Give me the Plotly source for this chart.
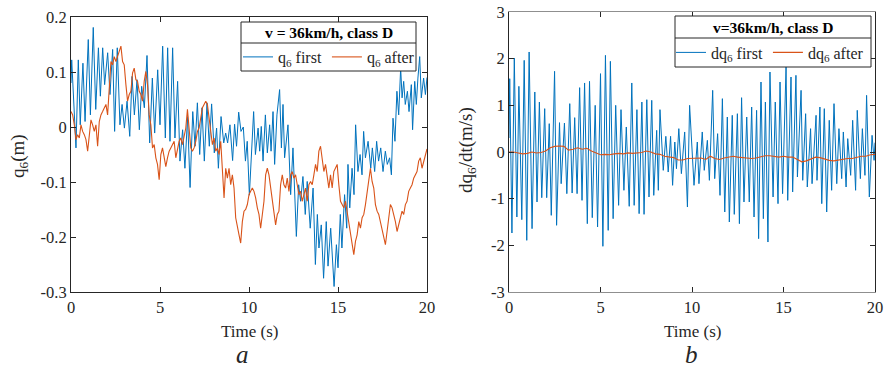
import numpy as np
import plotly.graph_objects as go

W, H = 885, 371
BLUE = "#0072BD"
ORANGE = "#D95319"
AX = "#262626"
FONT = "Liberation Serif"

# ---------------- panel a : q6 (m) ----------------
t_q_first = [0, 0.04, 0.28, 0.41, 0.52, 0.67, 0.79, 0.97, 1.09, 1.25, 1.39, 1.54, 1.65, 1.78, 1.89,
             2.06, 2.19, 2.34, 2.45, 2.60, 2.75, 2.87, 3.00, 3.15, 3.30, 3.43, 3.56, 3.71, 3.84, 3.97,
             4.12, 4.27, 4.42, 4.57, 4.70, 4.87, 5.00, 5.15, 5.30, 5.43, 5.56, 5.71, 5.84, 5.99, 6.12,
             6.27, 6.40, 6.55, 6.69, 6.84, 6.97, 7.10, 7.23, 7.36, 7.49, 7.64, 7.77, 7.90, 8.05, 8.18,
             8.28, 8.43, 8.58, 8.69, 8.80, 8.93, 9.08, 9.19, 9.30, 9.42, 9.55, 9.68, 9.80, 9.90, 10.02,
             10.26, 10.36, 10.51, 10.60, 10.69, 10.79, 10.92, 11.03, 11.16, 11.24, 11.35, 11.44, 11.57,
             11.72, 11.82, 11.91, 12.00, 12.19, 12.34, 12.47, 12.66, 12.79, 12.90, 13.03, 13.16, 13.27,
             13.44, 13.60, 13.73, 13.84, 13.93, 14.06, 14.19, 14.34, 14.44, 14.59, 14.78, 14.91, 15.00,
             15.13, 15.22, 15.37, 15.49, 15.56, 15.66, 15.79, 15.90, 15.99, 16.12, 16.24, 16.35, 16.44,
             16.54, 16.69, 16.84, 16.93, 17.06, 17.17, 17.28, 17.40, 17.53, 17.66, 17.77, 17.90, 18.00,
             18.09, 18.20, 18.31, 18.41, 18.52, 18.60, 18.69, 18.78, 18.90, 18.99, 19.12, 19.19, 19.31,
             19.40, 19.49, 19.59, 19.68, 19.81, 19.91, 20.0]
q_first = [0.080, 0.122, -0.038, 0.122, 0.004, 0.116, 0.010, 0.159, 0.022, 0.181, 0.032, 0.144, 0.056, 0.144, 0.077,
           0.135, 0.059, 0.141, -0.008, 0.144, 0.004, 0.041, -0.002, 0.047, -0.017, 0.092, 0.022, 0.086, -0.005, 0.074,
           0.035, 0.130, -0.029, 0.089, -0.011, 0.104, 0.004, 0.147, -0.020, 0.144, -0.026, 0.144, -0.020, 0.083, -0.062,
           -0.005, -0.075, 0.019, -0.110, 0.028, -0.035, 0.044, -0.050, 0.035, -0.062, 0.044, -0.035, 0.042, -0.047, -0.002,
           -0.075, 0.019, -0.029, -0.011, -0.029, 0.004, -0.061, 0.005, -0.035, 0.027, -0.008, 0.000, -0.062, -0.026, -0.124,
           0.028, -0.050, -0.002, -0.044, 0.001, -0.062, 0.022, -0.047, 0.004, -0.044, 0.028, -0.068, 0.022,
           0.068, -0.038, 0.041, -0.056, 0.004, -0.123, -0.038, -0.199, -0.105, -0.135, -0.090, -0.159, -0.099,
           -0.184, -0.111, -0.250, -0.159, -0.220, -0.178, -0.275, -0.172, -0.253, -0.184, -0.290, -0.214, -0.256,
           -0.159, -0.220, -0.123, -0.184, -0.068, -0.147, -0.075, -0.123, 0.004, -0.081, -0.050, -0.087, -0.008,
           -0.056, -0.026, -0.075, -0.038, -0.081, -0.026, -0.062, -0.038, -0.081, -0.044, -0.068, -0.056, -0.087,
           0.016, -0.026, 0.065, 0.022, 0.107, 0.053, 0.083, 0.041, 0.065, 0.028, 0.077, -0.005, 0.083,
           0.041, 0.089, 0.128, 0.053, 0.089, 0.059, 0.090]

q_after = [0.028, 0.022, 0.004, -0.023, -0.014, -0.020, 0.004, -0.008, -0.014, -0.023,
           -0.044, -0.008, 0.013, 0.004, -0.008, 0.004, -0.035, 0.010, 0.022, 0.028,
           0.035, 0.041, 0.022, 0.065, 0.119, 0.113, 0.128, 0.119, 0.128, 0.135,
           0.147, 0.119, 0.113, 0.077, 0.047, 0.059, 0.065, 0.098, 0.107, 0.086,
           0.083, 0.065, 0.059, 0.047, 0.083, 0.101, 0.077, 0.022, 0.004, -0.038,
           -0.032, -0.056, -0.068, -0.096, -0.050, -0.038, -0.056, -0.072, -0.056, -0.044,
           -0.038, -0.032, -0.026, -0.056, -0.038, -0.026, -0.020, -0.032, -0.017, -0.002,
           0.032, -0.002, -0.038, -0.044, -0.038, -0.026, -0.008, -0.002, 0.022, 0.035,
           0.041, 0.047, 0.041, 0.016, -0.008, -0.032, -0.020, -0.044, -0.038, -0.050,
           -0.026, -0.087, -0.129, -0.075, -0.093, -0.075, -0.105, -0.087, -0.111, -0.165,
           -0.184, -0.196, -0.211, -0.172, -0.153, -0.150, -0.141, -0.123,
           -0.117, -0.111, -0.117, -0.129, -0.147, -0.159, -0.184, -0.159, -0.135, -0.087,
           -0.075, -0.087, -0.111, -0.135, -0.153, -0.178, -0.159, -0.153, -0.105, -0.087,
           -0.105, -0.111, -0.093, -0.117, -0.087, -0.081, -0.093, -0.087, -0.105, -0.123,
           -0.117, -0.135, -0.123, -0.111, -0.135, -0.105, -0.099, -0.105, -0.087, -0.068,
           -0.081, -0.044, -0.035, -0.062, -0.081, -0.068, -0.093, -0.111, -0.087, -0.111,
           -0.081, -0.075, -0.068, -0.105, -0.135, -0.141, -0.147, -0.135, -0.153, -0.172,
           -0.196, -0.214, -0.232, -0.208, -0.196, -0.172, -0.184, -0.165, -0.159, -0.141,
           -0.117, -0.099, -0.075, -0.099, -0.111, -0.141, -0.153, -0.159, -0.172, -0.184,
           -0.196, -0.214, -0.190, -0.159, -0.141, -0.147, -0.159, -0.172, -0.190, -0.178,
           -0.165, -0.153, -0.159, -0.141, -0.135, -0.117, -0.111, -0.105, -0.093, -0.087,
           -0.081, -0.062, -0.056, -0.075, -0.062, -0.050, -0.040]
t_q_after = np.linspace(0, 20, len(q_after))

# ---------------- panel b : dq6/dt (m/s) ----------------
t_dq_first = [0, 0.04, 0.16, 0.29, 0.43, 0.54, 0.70, 0.83, 0.97, 1.10, 1.26, 1.41, 1.53, 1.66, 1.79,
              1.95, 2.06, 2.20, 2.31, 2.49, 2.60, 2.76, 2.85, 3.03, 3.16, 3.32, 3.45, 3.59, 3.72, 3.86,
              3.99, 4.13, 4.28, 4.40, 4.55, 4.71, 4.84, 5.00, 5.13, 5.27, 5.42, 5.54, 5.69, 5.83, 5.99,
              6.12, 6.28, 6.41, 6.57, 6.71, 6.84, 6.99, 7.11, 7.26, 7.38, 7.53, 7.65, 7.80, 7.91, 8.07,
              8.16, 8.25, 8.43, 8.57, 8.70, 8.83, 8.94, 9.06, 9.15, 9.28, 9.42, 9.60, 9.75, 9.87,
              10.11, 10.29, 10.38, 10.56, 10.67, 10.84, 10.95, 11.13, 11.24, 11.40, 11.53, 11.66, 11.79,
              11.93, 12.04, 12.20, 12.31, 12.48, 12.59, 12.71, 12.84, 12.99, 13.13, 13.26, 13.39, 13.53,
              13.64, 13.77, 13.90, 14.01, 14.15, 14.26, 14.43, 14.55, 14.70, 14.81, 14.95, 15.14, 15.23,
              15.41, 15.50, 15.68, 15.76, 15.96, 16.05, 16.21, 16.30, 16.48, 16.56, 16.78, 16.83, 16.99,
              17.09, 17.23, 17.36, 17.50, 17.63, 17.76, 17.91, 18.03, 18.18, 18.27, 18.42, 18.51, 18.67,
              18.78, 18.94, 19.03, 19.20, 19.31, 19.45, 19.54, 19.69, 19.84, 19.95, 20.0]
dq_first = [0.30, 1.571, -1.736, 2.014, -1.393, 1.407, -1.450, 1.964, -1.893, 2.143, -1.643, 1.286, -1.071, 1.071, -0.979,
            0.929, -0.979, 0.607, -1.357, 1.729, -1.571, 0.629, -0.679, 0.621, -0.893, 1.036, -0.879, 0.736, -0.893, 1.379,
            -1.036, 1.479, -1.536, 1.514, -1.407, 1.000, -1.607, 1.679, -2.021, 2.071, -1.679, 1.943, -1.429, 1.000, -1.143,
            0.907, -0.821, 0.536, -1.164, 1.479, -1.143, 0.907, -1.321, 1.071, -1.336, 1.121, -0.964, 1.107, -0.929, 0.464,
            -0.821, 0.907, -0.393, 0.336, -0.429, 0.336, -0.714, 0.214, -0.357, 0.500, -0.464, 0.429, -1.179, 1.000,
            -0.714, 0.214, -0.679, 0.429, -0.393, 0.250, -0.607, 1.321, -0.571, 0.393, -0.929, 1.143, -1.286,
            0.750, -1.500, 0.786, -1.336, 0.821, -1.536, 1.164, -1.071, 0.750, -1.071, 0.964, -1.393, 0.893,
            -1.857, 1.500, -1.429, 1.071, -1.929, 1.714, -0.964, 1.071, -1.107, 1.500, -0.893, 1.821, -1.036,
            1.607, -0.857, 1.643, -0.536, 1.321, -0.607, 0.821, -0.750, 0.500, -0.679, 0.786, -0.607, 0.964,
            -1.107, 0.929, -1.286, 0.679, -0.821, 1.036, -0.679, 0.500, -0.571, 0.429, -0.750, 0.286, -0.500,
            0.679, -0.821, 0.893, -0.571, 0.500, -0.500, 1.214, -0.964, 0.357, -0.179, 0.200]

dq_after = [0.00, 0.00, -0.02, -0.04, -0.03, 0.00, -0.02, -0.01, 0.02, 0.09,
            0.12, 0.13, 0.12, 0.04, 0.06, 0.09, 0.06, 0.08, 0.02, -0.02,
            -0.06, -0.05, -0.06, -0.04, -0.03, -0.04, -0.02, -0.03, -0.02, -0.01,
            0.02, 0.00, -0.04, -0.05, -0.09, -0.10, -0.12, -0.17, -0.17, -0.14,
            -0.14, -0.14, -0.13, -0.16, -0.09, -0.14, -0.16, -0.13, -0.11, -0.09,
            -0.11, -0.12, -0.14, -0.14, -0.13, -0.11, -0.08, -0.08, -0.10, -0.11,
            -0.09, -0.11, -0.11, -0.16, -0.21, -0.19, -0.15, -0.11, -0.12, -0.15,
            -0.18, -0.19, -0.17, -0.16, -0.14, -0.14, -0.11, -0.09, -0.09, -0.06,
            -0.05]
t_dq_after = np.linspace(0, 20, len(dq_after))

x_ticks = [0, 5, 10, 15, 20]
x_ticktext = ["0", "5", "10", "15", "20"]
ya_ticks = [-0.3, -0.2, -0.1, 0, 0.1, 0.2]
ya_ticktext = ["-0.3", "-0.2", "-0.1", "0", "0.1", "0.2"]
yb_ticks = [-3, -2, -1, 0, 1, 2, 3]
yb_ticktext = ["-3", "-2", "-1", "0", "1", "2", "3"]
legend_title_a = "v = 36km/h, class D"
legend_title_b = "v=36km/h, class D"


def px(x):
    return x / W


def py(y):
    return 1 - y / H


fig = go.Figure()
fig.add_trace(go.Scatter(x=t_q_first, y=q_first, mode="lines", name="q<sub>6</sub> first",
                         line=dict(color=BLUE, width=1), xaxis="x", yaxis="y", legend="legend"))
fig.add_trace(go.Scatter(x=t_q_after, y=q_after, mode="lines", name="q<sub>6</sub> after",
                         line=dict(color=ORANGE, width=1.1), xaxis="x", yaxis="y", legend="legend"))
fig.add_trace(go.Scatter(x=t_dq_first, y=dq_first, mode="lines", name="dq<sub>6</sub> first",
                         line=dict(color=BLUE, width=1), xaxis="x2", yaxis="y2", legend="legend2"))
fig.add_trace(go.Scatter(x=t_dq_after, y=dq_after, mode="lines", name="dq<sub>6</sub> after",
                         line=dict(color=ORANGE, width=1.1), xaxis="x2", yaxis="y2", legend="legend2"))

axis_common = dict(showline=True, linewidth=1, mirror="ticks", ticks="inside",
                   ticklen=5, tickcolor=AX, showgrid=False, zeroline=False,
                   tickfont=dict(family=FONT, size=16.5, color=AX))

leg_common = dict(orientation="h", borderwidth=0, bgcolor="rgba(0,0,0,0)",
                  font=dict(family=FONT, size=16, color=AX), itemwidth=30,
                  xanchor="left", yanchor="middle", tracegroupgap=0)

fig.update_layout(
    width=W, height=H, autosize=False,
    margin=dict(l=0, r=0, t=0, b=0, autoexpand=False),
    paper_bgcolor="white", plot_bgcolor="white",
    showlegend=True,
    xaxis=dict(domain=[px(71), px(427)], range=[0, 20], tickvals=x_ticks, ticktext=x_ticktext,
               anchor="y", linecolor=AX, **axis_common),
    yaxis=dict(domain=[py(292), py(17)], range=[-0.3, 0.2], tickvals=ya_ticks, ticktext=ya_ticktext,
               anchor="x", linecolor=AX, **axis_common),
    xaxis2=dict(domain=[px(509), px(875)], range=[0, 20], tickvals=x_ticks, ticktext=x_ticktext,
                anchor="y2", linecolor="#8f8f8f", **axis_common),
    yaxis2=dict(domain=[py(292), py(12)], range=[-3, 3], tickvals=yb_ticks, ticktext=yb_ticktext,
                anchor="x2", linecolor=AX, **axis_common),
    legend=dict(x=px(238), y=py(57), **leg_common),
    legend2=dict(x=px(671), y=py(52.5), **leg_common),
)

# legend frames (box + divider under the bold title)
shapes = []
for (x0, x1, y0, ydiv, y1) in [(241, 416, 22, 43, 71), (675, 871, 16, 38, 67)]:
    shapes.append(dict(type="rect", xref="paper", yref="paper", x0=px(x0), x1=px(x1),
                       y0=py(y1), y1=py(y0), line=dict(color=AX, width=1), fillcolor="white",
                       layer="above"))
    shapes.append(dict(type="line", xref="paper", yref="paper", x0=px(x0), x1=px(x1),
                       y0=py(ydiv), y1=py(ydiv), line=dict(color=AX, width=1), layer="above"))
fig.update_layout(shapes=shapes)

ann_font = dict(family=FONT, size=17, color=AX)
ylab_font = dict(family=FONT, size=19, color=AX)
annotations = [
    dict(text="<b>%s</b>" % legend_title_a, x=px(328.5), y=py(32.5), xref="paper", yref="paper",
         showarrow=False, font=dict(family=FONT, size=15.5, color="black"),
         xanchor="center", yanchor="middle"),
    dict(text="<b>%s</b>" % legend_title_b, x=px(773), y=py(27), xref="paper", yref="paper",
         showarrow=False, font=dict(family=FONT, size=15.5, color="black"),
         xanchor="center", yanchor="middle"),
    dict(text="Time (s)", x=px(249), y=py(331), xref="paper", yref="paper", showarrow=False,
         font=ann_font, xanchor="center", yanchor="middle"),
    dict(text="Time (s)", x=px(692), y=py(331), xref="paper", yref="paper", showarrow=False,
         font=ann_font, xanchor="center", yanchor="middle"),
    dict(text="q<sub>6</sub>(m)", x=px(19), y=py(156), xref="paper", yref="paper", showarrow=False,
         font=ylab_font, textangle=-90, xanchor="center", yanchor="middle"),
    dict(text="dq<sub>6</sub>/dt(m/s)", x=px(467), y=py(150), xref="paper", yref="paper",
         showarrow=False, font=ylab_font, textangle=-90, xanchor="center", yanchor="middle"),
    dict(text="<i>a</i>", x=px(242), y=py(370), xref="paper", yref="paper", showarrow=False,
         font=dict(family=FONT, size=25, color=AX), xanchor="center", yanchor="bottom"),
    dict(text="<i>b</i>", x=px(691), y=py(370), xref="paper", yref="paper", showarrow=False,
         font=dict(family=FONT, size=25, color=AX), xanchor="center", yanchor="bottom"),
]
fig.update_layout(annotations=annotations)

fig.write_html("out.html", post_script="document.body.style.margin='0px';",
               config={"displayModeBar": False})
